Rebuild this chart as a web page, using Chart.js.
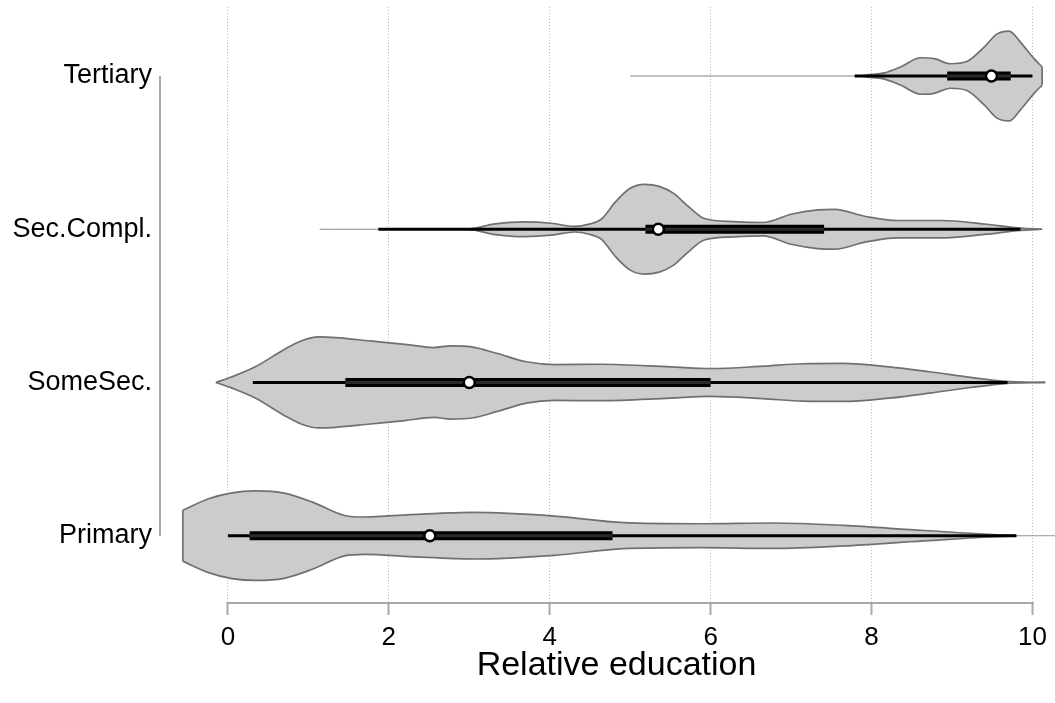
<!DOCTYPE html>
<html>
<head>
<meta charset="utf-8">
<script src="https://cdn.jsdelivr.net/npm/chart.js@4/dist/chart.umd.min.js"></script>
<style>
  html, body { margin: 0; padding: 0; background: #ffffff; }
  #wrap { width: 1055px; height: 703px; position: relative; }
</style>
</head>
<body>
<div id="wrap"><canvas id="c"></canvas></div>
<script>
// ---- categories (bottom to top) ----
const categories = ['Primary', 'SomeSec.', 'Sec.Compl.', 'Tertiary'];

// ---- x tick labels ----
const xTicks = [0, 2, 4, 6, 8, 10];

// ---- box-plot statistics per category ----
const whiskerLow  = [0.00, 0.31, 1.87, 7.79];
const quartile1   = [0.27, 1.46, 5.19, 8.94];
const medians     = [2.51, 3.00, 5.35, 9.49];
const quartile3   = [4.78, 6.00, 7.41, 9.73];
const whiskerHigh = [9.80, 9.69, 9.85, 10.00];

// ---- violin density profiles (x grid and half-width in category units) ----
const primaryX    = [-0.56, -0.24, 0.05, 0.34, 0.70, 1.05, 1.45, 1.70, 2.27, 3.06, 4.06, 4.92, 5.86, 6.79, 7.65, 8.65, 9.80, 10.28];
const primaryHalf = [0.166, 0.241, 0.280, 0.292, 0.278, 0.219, 0.132, 0.122, 0.137, 0.152, 0.128, 0.085, 0.078, 0.083, 0.067, 0.034, 0.002, 0.000];

const someSecX    = [-0.15, 0.05, 0.34, 0.70, 0.91, 1.13, 1.34, 1.77, 2.20, 2.56, 2.77, 3.03, 3.35, 3.71, 4.06, 4.64, 5.50, 6.00, 6.65, 7.15, 7.65, 8.22, 8.72, 9.23, 9.66, 10.16];
const someSecHalf = [0.000, 0.037, 0.102, 0.215, 0.271, 0.297, 0.293, 0.271, 0.249, 0.228, 0.239, 0.232, 0.189, 0.135, 0.117, 0.119, 0.102, 0.091, 0.106, 0.122, 0.124, 0.102, 0.070, 0.033, 0.007, 0.000];

const secComplX    = [1.14, 3.00, 3.30, 3.69, 4.02, 4.31, 4.49, 4.64, 4.82, 5.00, 5.18, 5.36, 5.54, 5.72, 5.92, 6.29, 6.65, 7.00, 7.33, 7.54, 7.93, 8.32, 8.86, 9.40, 9.85, 10.12];
const secComplHalf = [0.001, 0.003, 0.033, 0.048, 0.039, 0.018, 0.033, 0.065, 0.180, 0.267, 0.293, 0.280, 0.234, 0.150, 0.070, 0.050, 0.044, 0.098, 0.126, 0.130, 0.083, 0.057, 0.057, 0.034, 0.007, 0.000];

const tertiaryX    = [5.00, 7.87, 7.95, 8.16, 8.36, 8.61, 8.78, 8.98, 9.19, 9.40, 9.56, 9.71, 9.85, 10.02, 10.12];
const tertiaryHalf = [0.001, 0.001, 0.007, 0.020, 0.059, 0.119, 0.113, 0.080, 0.096, 0.189, 0.275, 0.293, 0.221, 0.113, 0.059];

const profilesX    = [primaryX, someSecX, secComplX, tertiaryX];
const profilesHalf = [primaryHalf, someSecHalf, secComplHalf, tertiaryHalf];

// ---- styles ----
const FONT = "'Liberation Sans', Arial, Helvetica, sans-serif";
const VIOLIN_FILL = '#cccccc';
const VIOLIN_LINE = '#707070';
const TAIL_LINE = 'rgba(140,140,140,0.55)';
const AXIS_GRAY = '#a8a8a8';

const datasets = [];

categories.forEach((cat, i) => {
  const xs = profilesX[i];
  const hw = profilesHalf[i];
  const isTail = c => hw[c.p0DataIndex] <= 0.003 && hw[c.p1DataIndex] <= 0.003;
  const common = {
    borderColor: VIOLIN_LINE,
    borderWidth: 1.7,
    pointRadius: 0,
    cubicInterpolationMode: 'monotone',
    order: 10,
    segment: {
      borderColor: c => isTail(c) ? TAIL_LINE : undefined,
      borderWidth: c => isTail(c) ? 1 : undefined
    }
  };
  datasets.push(Object.assign({
    label: cat + ' upper',
    data: xs.map((x, j) => ({ x: x, y: i + hw[j] })),
    fill: '+1',
    backgroundColor: VIOLIN_FILL
  }, common));
  datasets.push(Object.assign({
    label: cat + ' lower',
    data: xs.map((x, j) => ({ x: x, y: i - hw[j] })),
    fill: false,
    backgroundColor: VIOLIN_FILL
  }, common));
  // flat ends where the density profile is cut off
  [0, xs.length - 1].forEach(k => {
    if (hw[k] > 0.01) {
      datasets.push({
        label: cat + ' edge',
        data: [{ x: xs[k], y: i + hw[k] }, { x: xs[k], y: i - hw[k] }],
        borderColor: VIOLIN_LINE,
        borderWidth: 1.7,
        pointRadius: 0,
        fill: false,
        order: 9
      });
    }
  });
  // whisker
  datasets.push({
    label: cat + ' whisker',
    data: [{ x: whiskerLow[i], y: i }, { x: whiskerHigh[i], y: i }],
    borderColor: '#000000',
    borderWidth: 3,
    borderCapStyle: 'butt',
    pointRadius: 0,
    fill: false,
    order: 3
  });
  // box (outer)
  datasets.push({
    label: cat + ' box',
    data: [{ x: quartile1[i], y: i }, { x: quartile3[i], y: i }],
    borderColor: '#000000',
    borderWidth: 9,
    borderCapStyle: 'butt',
    pointRadius: 0,
    fill: false,
    order: 2
  });
  // box (inner)
  datasets.push({
    label: cat + ' box inner',
    data: [{ x: quartile1[i], y: i }, { x: quartile3[i], y: i }],
    borderColor: '#2a2a2a',
    borderWidth: 3,
    borderCapStyle: 'butt',
    pointRadius: 0,
    fill: false,
    order: 1
  });
  // median
  datasets.push({
    label: cat + ' median',
    data: [{ x: medians[i], y: i }],
    showLine: false,
    pointRadius: 5.5,
    pointBackgroundColor: '#ffffff',
    pointBorderColor: '#000000',
    pointBorderWidth: 2.5,
    fill: false,
    order: 0
  });
});

const axisLines = {
  id: 'axisLines',
  beforeDatasetsDraw(chart) {
    const { ctx, chartArea, scales } = chart;
    const x = scales.x, y = scales.y;
    ctx.save();
    ctx.strokeStyle = AXIS_GRAY;
    ctx.lineWidth = 2;
    ctx.beginPath();
    const yb = chartArea.bottom + 1;
    ctx.moveTo(x.getPixelForValue(xTicks[0]) - 1, yb);
    ctx.lineTo(x.getPixelForValue(xTicks[xTicks.length - 1]) + 1, yb);
    const lx = chartArea.left - 18;
    ctx.moveTo(lx, y.getPixelForValue(0));
    ctx.lineTo(lx, y.getPixelForValue(categories.length - 1));
    ctx.stroke();
    ctx.restore();
  }
};

new Chart(document.getElementById('c'), {
  type: 'line',
  data: { datasets: datasets },
  plugins: [axisLines],
  options: {
    responsive: true,
    maintainAspectRatio: false,
    animation: false,
    events: [],
    layout: { autoPadding: false, padding: { top: 7, left: 0, right: 0, bottom: 0 } },
    plugins: {
      legend: { display: false },
      tooltip: { enabled: false },
      title: { display: false },
      filler: { drawTime: 'beforeDatasetsDraw' }
    },
    scales: {
      x: {
        type: 'linear',
        min: -0.62,
        max: 10.28,
        afterBuildTicks: s => { s.ticks = xTicks.map(v => ({ value: v })); },
        afterFit: s => { s.height = 101; s.paddingLeft = 0; s.paddingRight = 0; },
        grid: {
          color: '#bdbdbd',
          lineWidth: 1,
          drawTicks: true,
          tickLength: 13,
          tickColor: AXIS_GRAY,
          tickWidth: 2,
          tickBorderDash: []
        },
        border: { display: false, dash: [1, 2] },
        ticks: {
          color: '#000000',
          font: { family: FONT, size: 26 },
          padding: 7,
          maxRotation: 0,
          callback: v => String(v)
        },
        title: {
          display: true,
          text: 'Relative education',
          color: '#000000',
          font: { family: FONT, size: 34 },
          padding: 17
        }
      },
      y: {
        type: 'linear',
        min: -0.4327,
        max: 3.4503,
        afterBuildTicks: s => { s.ticks = categories.map((c, i) => ({ value: i })); },
        afterFit: s => { s.width = 178; s.paddingTop = 0; s.paddingBottom = 0; },
        grid: { display: false, drawTicks: false },
        border: { display: false },
        ticks: {
          color: '#000000',
          font: { family: FONT, size: 27 },
          padding: 26,
          callback: v => categories[v]
        }
      }
    }
  }
});
</script>
</body>
</html>
